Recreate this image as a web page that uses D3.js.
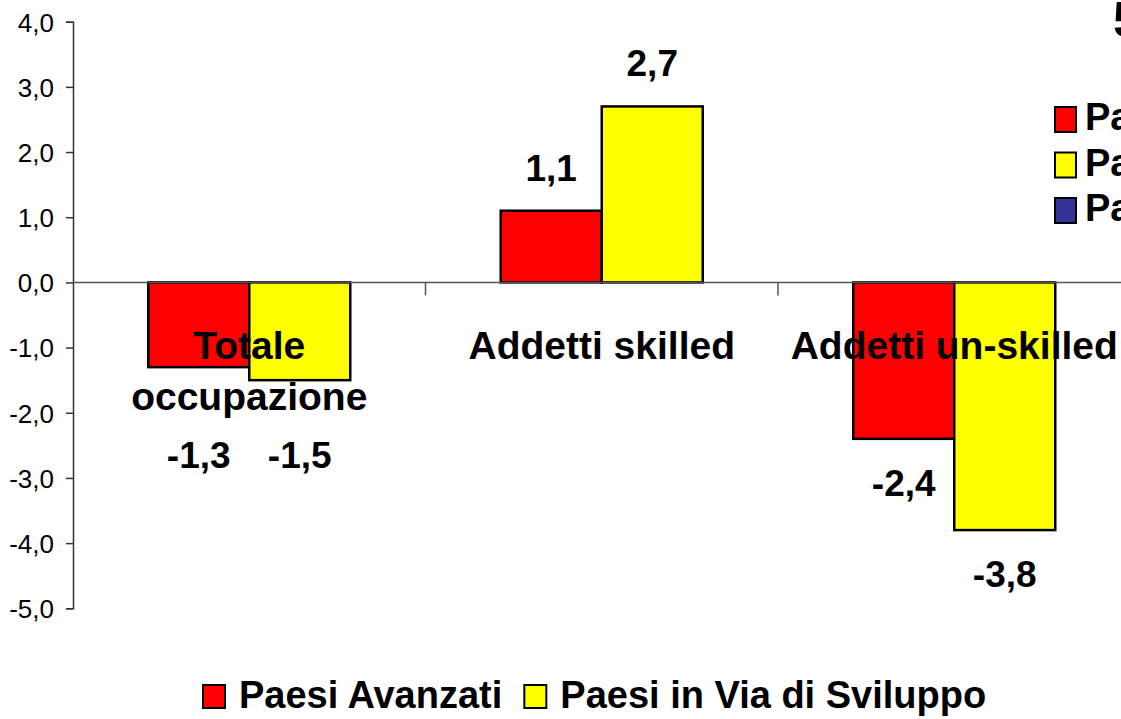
<!DOCTYPE html>
<html>
<head>
<meta charset="utf-8">
<script src="https://d3js.org/d3.v7.min.js"></script>
<style>
  body { margin: 0; background: #fff; }
  svg { display: block; font-family: "Liberation Sans", Arial, sans-serif; }
</style>
</head>
<body>
<div id="chart"></div>
<script>
// data
var categories = ["Totale occupazione", "Addetti skilled", "Addetti un-skilled"];
var seriesNames = ["Paesi Avanzati", "Paesi in Via di Sviluppo"];
var seriesColors = ["#ff0000", "#ffff00"];
var avanzati = [-1.3, 1.1, -2.4];
var sviluppo = [-1.5, 2.7, -3.8];
var yTicks = [4, 3, 2, 1, 0, -1, -2, -3, -4, -5];
// the old legend at the top right, cut by the frame
var oldLegendNames = ["Paesi Avanzati", "Paesi in Via di Sviluppo", "Paesi (totale)"];
var oldLegendColors = ["#ff0000", "#ffff00", "#333399"];
var titleText = "5";

var W = 1121, H = 719;
var left = 73, bandW = 352.5;

var svg = d3.select("#chart").append("svg")
    .attr("width", W)
    .attr("height", H);

var y = d3.scaleLinear().domain([-5, 4]).range([608.3, 21.7]);

var x0 = d3.scaleBand()
    .domain(categories)
    .range([left, left + bandW * categories.length])
    .padding(0);

var x1 = d3.scaleBand()
    .domain(d3.range(seriesNames.length))
    .range([0, x0.bandwidth()])
    .paddingInner(0)
    .paddingOuter(0.745);

var fmt = function(v) { return d3.format(".1f")(v).replace(".", ",").replace("−", "-"); };

// y axis
var yAxis = d3.axisLeft(y)
    .tickValues(yTicks)
    .tickSize(7)
    .tickFormat(fmt);
var gy = svg.append("g")
    .attr("transform", "translate(" + left + ",0)")
    .call(yAxis);
gy.select(".domain").attr("stroke", "#333").attr("stroke-width", 1.5);
gy.selectAll(".tick line").attr("stroke", "#333").attr("stroke-width", 1.5);
gy.selectAll(".tick text")
    .attr("x", -19)
    .attr("dy", "0.36em")
    .attr("fill", "#000")
    .style("font-size", "26px")
    .style("font-family", "'Liberation Sans', Arial, sans-serif");

// bars
var rows = [avanzati, sviluppo];
var groups = svg.append("g").selectAll("g")
    .data(categories)
    .join("g")
    .attr("transform", function(d) { return "translate(" + x0(d) + ",0)"; });

groups.selectAll("rect")
    .data(function(d, i) { return rows.map(function(r, s) { return {s: s, v: r[i]}; }); })
    .join("rect")
    .attr("x", function(d) { return x1(d.s); })
    .attr("width", x1.bandwidth())
    .attr("y", function(d) { return y(Math.max(0, d.v)); })
    .attr("height", function(d) { return Math.abs(y(d.v) - y(0)); })
    .attr("fill", function(d) { return seriesColors[d.s]; })
    .attr("stroke", "#000")
    .attr("stroke-width", 2.5);

// zero line with category ticks
var zeroY = y(0);
svg.append("line")
    .attr("x1", left).attr("x2", W)
    .attr("y1", zeroY).attr("y2", zeroY)
    .attr("stroke", "#555").attr("stroke-width", 1.5);
svg.append("g").selectAll("line")
    .data(categories.slice(1))
    .join("line")
    .attr("x1", function(d) { return x0(d); })
    .attr("x2", function(d) { return x0(d); })
    .attr("y1", zeroY).attr("y2", zeroY + 13)
    .attr("stroke", "#555").attr("stroke-width", 1.5);

// category labels, wrapped when wider than the band
var catBottom = {};
categories.forEach(function(c) {
  var t = svg.append("text")
      .attr("x", x0(c) + x0.bandwidth() / 2)
      .attr("y", zeroY + 77)
      .attr("text-anchor", "middle")
      .style("font-size", "39px")
      .style("font-weight", "bold")
      .text(c);
  var lines = [c];
  if (t.node().getComputedTextLength() > x0.bandwidth()) {
    var words = c.split(" ");
    lines = [words[0], words.slice(1).join(" ")];
    t.text(null);
    lines.forEach(function(l, k) {
      t.append("tspan")
        .attr("x", x0(c) + x0.bandwidth() / 2)
        .attr("dy", k === 0 ? 0 : 51)
        .text(l);
    });
  }
  catBottom[c] = zeroY + 77 + (lines.length - 1) * 51;
});

// value labels
categories.forEach(function(c, i) {
  rows.forEach(function(r, s) {
    var v = r[i];
    var by;
    if (v >= 0) {
      by = y(v) - 30;
    } else {
      by = Math.max(y(v) + 57, catBottom[c] + 58);
    }
    svg.append("text")
      .attr("x", x0(c) + x1(s) + x1.bandwidth() / 2)
      .attr("y", by)
      .attr("text-anchor", "middle")
      .style("font-size", "37px")
      .style("font-weight", "bold")
      .text(fmt(v));
  });
});

// bottom legend
var lg = svg.append("g");
var lx = 203;
seriesNames.forEach(function(n, s) {
  lg.append("rect")
    .attr("x", lx).attr("y", 685)
    .attr("width", 22).attr("height", 23)
    .attr("fill", seriesColors[s])
    .attr("stroke", "#000").attr("stroke-width", 2);
  var t = lg.append("text")
    .attr("x", lx + 36).attr("y", 708)
    .style("font-size", "38px")
    .style("font-weight", "bold")
    .text(n);
  lx += 36 + t.node().getComputedTextLength() + 22;
});

// clipped title and old legend at the right edge
svg.append("text")
  .attr("x", 1113).attr("y", 37)
  .style("font-size", "50px")
  .style("font-weight", "bold")
  .text(titleText);

oldLegendNames.forEach(function(n, s) {
  svg.append("rect")
    .attr("x", 1055).attr("y", 107 + s * 45.5)
    .attr("width", 21).attr("height", 25)
    .attr("fill", oldLegendColors[s])
    .attr("stroke", "#000").attr("stroke-width", 2);
  svg.append("text")
    .attr("x", 1085).attr("y", 130 + s * 45.5)
    .style("font-size", "38px")
    .style("font-weight", "bold")
    .text(n);
});
</script>
</body>
</html>
